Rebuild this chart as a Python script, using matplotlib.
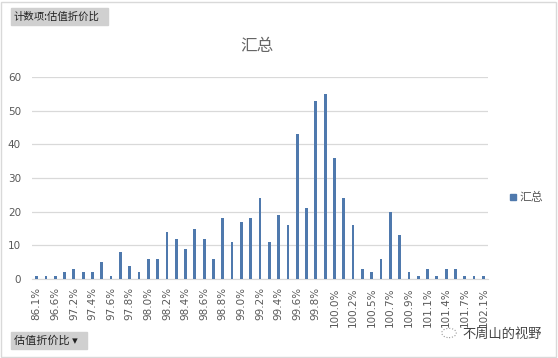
import numpy as np
import matplotlib as mpl
import matplotlib.pyplot as plt
from matplotlib.patches import Rectangle

plt.rcParams['font.family'] = ['Noto Sans CJK SC', 'DejaVu Sans']

# 估值折价比 categories (only every other one is shown on the axis)
categories = ['86.1%', '95.0%', '96.6%', '96.9%', '97.2%', '97.3%', '97.4%', '97.5%',
              '97.6%', '97.7%', '97.8%', '97.9%', '98.0%', '98.1%', '98.2%', '98.3%',
              '98.4%', '98.5%', '98.6%', '98.7%', '98.8%', '98.9%', '99.0%', '99.1%',
              '99.2%', '99.3%', '99.4%', '99.5%', '99.6%', '99.7%', '99.8%', '99.9%',
              '100.0%', '100.1%', '100.2%', '100.4%', '100.5%', '100.6%', '100.7%', '100.8%',
              '100.9%', '101.0%', '101.1%', '101.3%', '101.4%', '101.5%', '101.7%', '101.9%',
              '102.1%']
counts = [1, 1, 1, 2, 3, 2, 2, 5, 1, 8, 4, 2, 6, 6, 14, 12,
          9, 15, 12, 6, 18, 11, 17, 18, 24, 11, 19, 16, 43, 21, 53, 55,
          36, 24, 16, 3, 2, 6, 20, 13, 2, 1, 3, 1, 3, 3, 1, 1,
          1]
series_name = '汇总'
yticks = [0, 10, 20, 30, 40, 50, 60]

BLUE = '#4F79AD'
GREY_TXT = '#595959'
W, H = 558, 358

fig = plt.figure(figsize=(W / 100, H / 100), dpi=100)
ax = fig.add_axes([32 / W, 1 - 279 / H, (488 - 32) / W, (279 - 77) / H])

x = np.arange(len(categories))
ax.bar(x, counts, width=0.3, color=BLUE, zorder=3)

ax.set_ylim(0, 60)
ax.set_xlim(-0.5, len(categories) - 0.5)
ax.set_yticks(yticks)
ax.set_yticklabels([str(t) for t in yticks], fontsize=7.5, color=GREY_TXT,
                   family=['DejaVu Sans'])
ax.set_xticks(x[::2])
ax.set_xticklabels(categories[::2], rotation=90, fontsize=7.5, color=GREY_TXT,
                   family=['DejaVu Sans'])
ax.tick_params(axis='x', length=0, pad=6)
ax.tick_params(axis='y', length=0, pad=8)
ax.grid(axis='y', color='#D9D9D9', linewidth=0.9, zorder=0)
for s in ['top', 'right', 'left']:
    ax.spines[s].set_visible(False)
ax.spines['bottom'].set_color('#D9D9D9')

fig.text(257 / W, 1 - 47 / H, '汇总', fontsize=12, color='#666666',
         ha='center', va='center')

# legend
fig.patches.append(Rectangle((510 / W, 1 - 200 / H), 6 / W, 6 / H,
                             transform=fig.transFigure, color=BLUE))
fig.text(519 / W, 1 - 197 / H, series_name, fontsize=8.5, color=GREY_TXT, va='center')

# outer border
fig.patches.append(Rectangle((1 / W, 1 / H), (W - 3) / W, (H - 3) / H,
                             transform=fig.transFigure, fill=False,
                             edgecolor='#D9D9D9', linewidth=1))

# pivot field buttons
fig.patches.append(Rectangle((11 / W, 1 - 25 / H), 97 / W, 17 / H,
                             transform=fig.transFigure, color='#D0D0D0'))
fig.text(14 / W, 1 - 16.5 / H, '计数项:估值折价比', fontsize=7.5, color='#222222', va='center')
fig.patches.append(Rectangle((11 / W, 1 - 349 / H), 76 / W, 17 / H,
                             transform=fig.transFigure, color='#D0D0D0'))
fig.text(14 / W, 1 - 340.5 / H, '估值折价比 ▾', fontsize=8, color='#222222', va='center')

# watermark
fig.text(462 / W, 1 - 334 / H, '不周山的视野', fontsize=9.5, color='#444444', va='center')
fig.patches.append(mpl.patches.Circle((449 / W, 1 - 333 / H), 0.013,
                                      transform=fig.transFigure, fill=False,
                                      edgecolor='#999999', linewidth=0.8, linestyle=':'))

fig.savefig('out.png', dpi=100)
